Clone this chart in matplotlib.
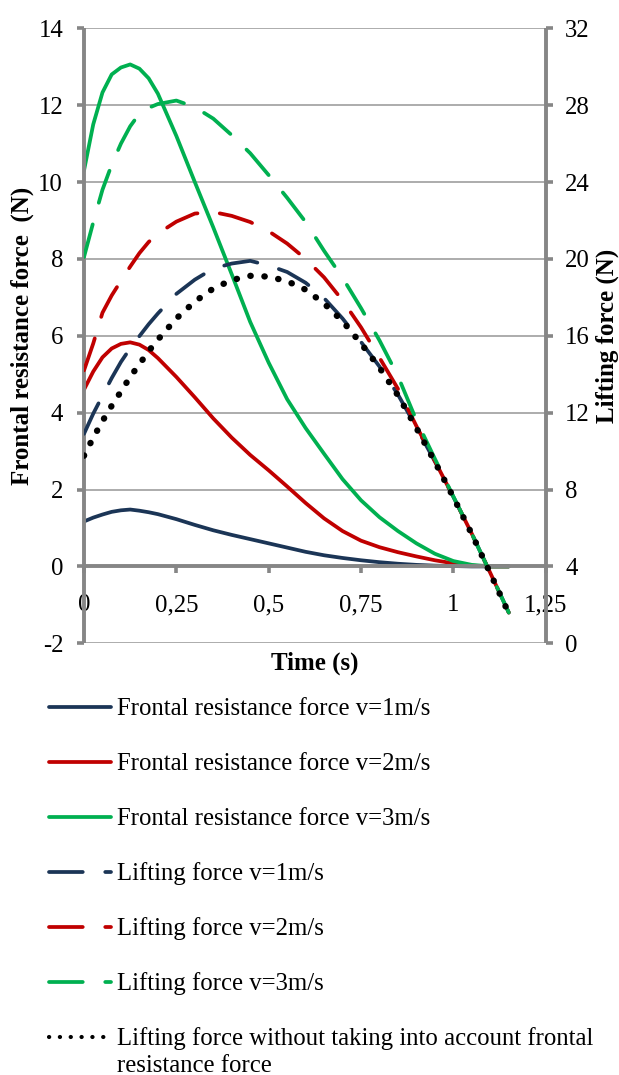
import matplotlib
matplotlib.use("Agg")
import matplotlib.pyplot as plt
from matplotlib.lines import Line2D
from matplotlib.ticker import FixedLocator, FixedFormatter

plt.rcParams["font.family"] = ["Liberation Serif", "DejaVu Serif"]
plt.rcParams["axes.unicode_minus"] = False

# ---- data -------------------------------------------------------------
time_s = [0.000, 0.025, 0.050, 0.075, 0.100, 0.125, 0.150, 0.175, 0.200,
          0.25, 0.30, 0.35, 0.40, 0.45, 0.50, 0.55, 0.60, 0.65, 0.70,
          0.75, 0.80, 0.85, 0.90, 0.95, 1.00, 1.05, 1.10, 1.15]

# frontal resistance force, N (left axis)
frontal_v1 = [1.17, 1.27, 1.35, 1.42, 1.46, 1.48, 1.45, 1.41, 1.36,
              1.23, 1.08, 0.94, 0.82, 0.71, 0.60, 0.49, 0.38, 0.29, 0.22,
              0.16, 0.11, 0.07, 0.04, 0.02, 0.01, 0.00, 0.00, 0.00]
frontal_v2 = [4.60, 5.07, 5.44, 5.67, 5.79, 5.83, 5.77, 5.63, 5.42,
              4.93, 4.40, 3.85, 3.35, 2.90, 2.50, 2.08, 1.65, 1.25, 0.92,
              0.67, 0.50, 0.37, 0.26, 0.16, 0.08, 0.02, 0.00, 0.00]
frontal_v3 = [10.30, 11.50, 12.33, 12.80, 12.98, 13.06, 12.95, 12.70, 12.30,
              11.20, 10.00, 8.82, 7.60, 6.36, 5.30, 4.35, 3.60, 2.93, 2.27,
              1.72, 1.28, 0.92, 0.60, 0.33, 0.14, 0.04, 0.00, 0.00]

# lifting force, N (right axis)
lifting_v1 = [10.90, 11.95, 12.88, 13.80, 14.64, 15.35, 15.98, 16.60, 17.16,
              18.18, 18.92, 19.50, 19.76, 19.90, 19.66, 19.32, 18.76, 17.96, 16.90,
              15.68, 14.40, 12.94, 11.24, 9.46, 7.62, 5.70, 3.66, 1.60]
lifting_v2 = [14.20, 15.60, 17.20, 18.10, 18.86, 19.60, 20.30, 20.88, 21.32,
              21.94, 22.36, 22.44, 22.24, 21.92, 21.44, 20.80, 20.00, 19.04, 17.84,
              16.44, 14.86, 13.24, 11.30, 9.48, 7.62, 5.70, 3.66, 1.60]
lifting_v3 = [20.10, 21.90, 23.60, 24.90, 26.00, 26.90, 27.56, 27.86, 28.06,
              28.24, 27.90, 27.30, 26.44, 25.50, 24.36, 23.18, 21.92, 20.42, 19.02,
              17.44, 15.76, 13.90, 11.60, 9.60, 7.64, 5.70, 3.66, 1.60]
lifting_no_drag = [9.76, 10.70, 11.56, 12.36, 13.10, 13.86, 14.52, 15.20, 15.80,
                   16.90, 17.78, 18.46, 18.90, 19.12, 19.08, 18.84, 18.40, 17.68, 16.76,
                   15.60, 14.34, 12.90, 11.20, 9.44, 7.60, 5.68, 3.64, 1.56]

x_ticks = [0, 0.25, 0.5, 0.75, 1.0, 1.25]
x_tick_labels = ["0", "0,25", "0,5", "0,75", "1", "1,25"]
left_ticks = [-2, 0, 2, 4, 6, 8, 10, 12, 14]
right_ticks = [0, 4, 8, 12, 16, 20, 24, 28, 32]

legend_labels = [
    "Frontal resistance force v=1m/s",
    "Frontal resistance force v=2m/s",
    "Frontal resistance force v=3m/s",
    "Lifting force v=1m/s",
    "Lifting force v=2m/s",
    "Lifting force v=3m/s",
    "Lifting force without taking into account frontal\nresistance force",
]

# ---- styles -----------------------------------------------------------
NAVY = "#1B3556"
RED = "#C00000"
GREEN = "#00B050"
AXIS_GREY = "#868686"
GRID_GREY = "#A6A6A6"

LW = 2.7
solid = dict(lw=LW, solid_capstyle="round", solid_joinstyle="round")
dashed = dict(lw=LW, dashes=(9.0, 6.0), dash_capstyle="round", dash_joinstyle="round")
dotted = dict(lw=4.6, dashes=(0.05, 2.15), dash_capstyle="round", color="black")

W, H = 619, 1075
fig = plt.figure(figsize=(W / 100, H / 100), dpi=100)

x0, x1 = 84, 545.7
y_top, y_bot = 28.3, 643.3
ax = fig.add_axes([x0 / W, 1 - y_bot / H, (x1 - x0) / W, (y_bot - y_top) / H])
ax.set_xlim(0, 1.25)
ax.set_ylim(-2, 14)

ax2 = ax.twinx()
ax2.set_ylim(0, 32)

# grid
ax.yaxis.set_major_locator(FixedLocator(left_ticks))
ax.yaxis.grid(True, color=GRID_GREY, lw=1.3)
ax.set_axisbelow(True)

# frontal resistance on the left axis
ax.plot(time_s, frontal_v1, color=NAVY, **solid)
ax.plot(time_s, frontal_v2, color=RED, **solid)
ax.plot(time_s, frontal_v3, color=GREEN, **solid)

# lifting force on the right axis
ax2.plot(time_s, lifting_v1, color=NAVY, **dashed)
ax2.plot(time_s, lifting_v2, color=RED, **dashed)
ax2.plot(time_s, lifting_v3, color=GREEN, **dashed)
ax2.plot(time_s, lifting_no_drag, **dotted)

# spines
for s in ("top", "right"):
    ax.spines[s].set_visible(False)
for s in ("top", "bottom", "left"):
    ax2.spines[s].set_visible(False)
ax.spines["bottom"].set_position(("data", 0))
for sp in (ax.spines["left"], ax.spines["bottom"], ax2.spines["right"]):
    sp.set_color(AXIS_GREY)
    sp.set_linewidth(2.8)
    sp.set_capstyle("butt")

FS = 17.8
FS_TITLE = 18.0
ax.xaxis.set_major_locator(FixedLocator(x_ticks))
ax.xaxis.set_major_formatter(FixedFormatter(x_tick_labels))
ax.tick_params(axis="x", direction="out", length=5, width=2.6, color=AXIS_GREY,
               labelsize=FS, pad=15)
ax.tick_params(axis="y", direction="out", length=5, width=2.6, color=AXIS_GREY,
               labelsize=FS, pad=10)
ax2.yaxis.set_major_locator(FixedLocator(right_ticks))
ax2.tick_params(axis="y", direction="out", length=5, width=2.6, color=AXIS_GREY,
                labelsize=FS, pad=9)

# axis titles
def fx(px):
    return px / W

def fy(py):
    return 1 - py / H

fig.text(fx(22), fy(336), "Frontal resistance force  (N)", rotation=90,
         ha="center", va="center", fontsize=FS_TITLE, fontweight="bold")
fig.text(fx(607), fy(336), "Lifting force (N)", rotation=90,
         ha="center", va="center", fontsize=FS_TITLE, fontweight="bold")
fig.text(fx(315), fy(663), "Time (s)", ha="center", va="center",
         fontsize=FS_TITLE, fontweight="bold")

# legend
styles = [
    dict(color=NAVY, **solid), dict(color=RED, **solid), dict(color=GREEN, **solid),
    dict(color=NAVY, **dashed), dict(color=RED, **dashed), dict(color=GREEN, **dashed),
    dict(lw=3.0, dashes=(0.05, 2.55), dash_capstyle="round", color="black"),
]
row_y = [706.7, 761.7, 816.7, 871.7, 926.7, 981.7, 1036.7]
for yy, st, lab in zip(row_y, styles, legend_labels):
    fig.add_artist(Line2D([fx(49), fx(111)], [fy(yy), fy(yy)],
                          transform=fig.transFigure, **st))
    for k, line in enumerate(lab.split("\n")):
        fig.text(fx(117), fy(yy + 8 + 27 * k), line, ha="left", va="baseline",
                 fontsize=FS)

fig.savefig("out.png", dpi=100)
